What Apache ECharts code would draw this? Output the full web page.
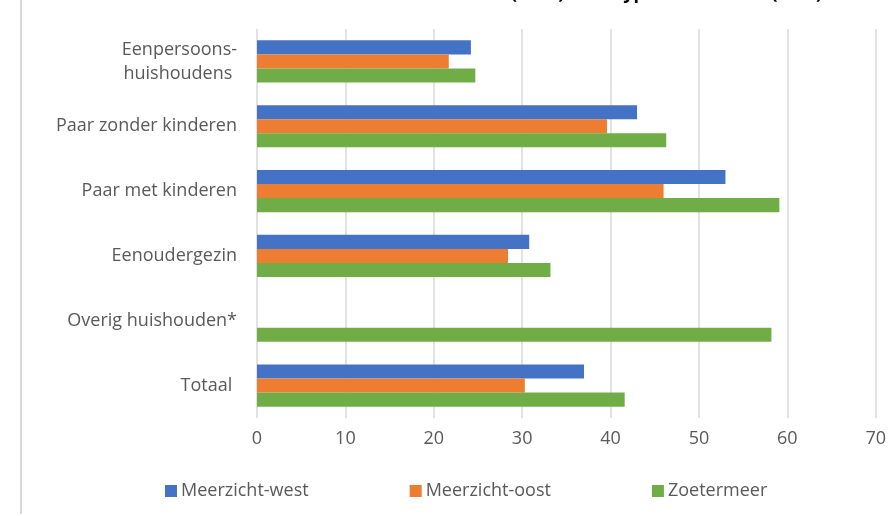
<!DOCTYPE html>
<html>
<head>
<meta charset="utf-8">
<script src="https://cdn.jsdelivr.net/npm/echarts@6/dist/echarts.min.js"></script>
<style>
  html, body { margin: 0; padding: 0; background: #fff; }
  #chart { width: 889px; height: 516px; }
</style>
</head>
<body>
<div id="chart"></div>
<script>
// huishoudtypes (van boven naar beneden)
var categories = [
  "Eenpersoons-\nhuishoudens ",
  "Paar zonder kinderen",
  "Paar met kinderen",
  "Eenoudergezin",
  "Overig huishouden*",
  "Totaal "
];
var seriesNames = ["Meerzicht-west", "Meerzicht-oost", "Zoetermeer"];
var west = [24.2, 43.0, 53.0, 30.8, null, 37.0];
var oost = [21.7, 39.6, 46.0, 28.4, null, 30.3];
var zoetermeer = [24.7, 46.3, 59.1, 33.2, 58.2, 41.6];
var xTicks = [0, 10, 20, 30, 40, 50, 60, 70];

var fontFamily = "'Open Sans', 'Noto Sans', sans-serif";
var chart = echarts.init(document.getElementById("chart"));

var option = {
  animation: false,
  color: ["#4472C4", "#ED7D31", "#70AD47"],
  textStyle: { fontFamily: fontFamily },
  grid: { left: 257, right: 12, top: 29, bottom: 98, containLabel: false },
  legend: {
    bottom: 11,
    left: 160,
    itemWidth: 12,
    itemHeight: 12,
    itemGap: 101,
    icon: "rect",
    textStyle: { color: "#595959", fontSize: 18, fontFamily: fontFamily, padding: [0, 0, 0, -1] },
    data: seriesNames
  },
  xAxis: {
    type: "value",
    min: xTicks[0],
    max: xTicks[xTicks.length - 1],
    interval: 10,
    axisLine: { show: false },
    axisTick: { show: false },
    axisLabel: { color: "#595959", fontSize: 18, margin: 12 },
    splitLine: { show: true, lineStyle: { color: "#d9d9d9", width: 1.5 } }
  },
  yAxis: {
    type: "category",
    inverse: true,
    data: categories,
    axisLine: { show: false },
    axisTick: { show: false },
    axisLabel: { color: "#595959", fontSize: 18, margin: 20, lineHeight: 24 }
  },
  series: [
    { name: seriesNames[0], type: "bar", data: west, barGap: "0%", barCategoryGap: "35%" },
    { name: seriesNames[1], type: "bar", data: oost, barGap: "0%", barCategoryGap: "35%" },
    { name: seriesNames[2], type: "bar", data: zoetermeer, barGap: "0%", barCategoryGap: "35%" }
  ],
  graphic: [
    {
      type: "line",
      shape: { x1: 21, y1: 0, x2: 21, y2: 514 },
      style: { stroke: "#d9d9d9", lineWidth: 2 }
    },
    {
      type: "text",
      x: 822,
      y: 3,
      style: {
        text: "Aandeel huishoudens (2019) naar type huishouden (in %)",
        font: "bold 18px " + fontFamily,
        fill: "#000",
        align: "right",
        verticalAlign: "bottom"
      }
    }
  ]
};

chart.setOption(option);
window.addEventListener("resize", function () {
  chart.resize();
});
</script>
</body>
</html>
